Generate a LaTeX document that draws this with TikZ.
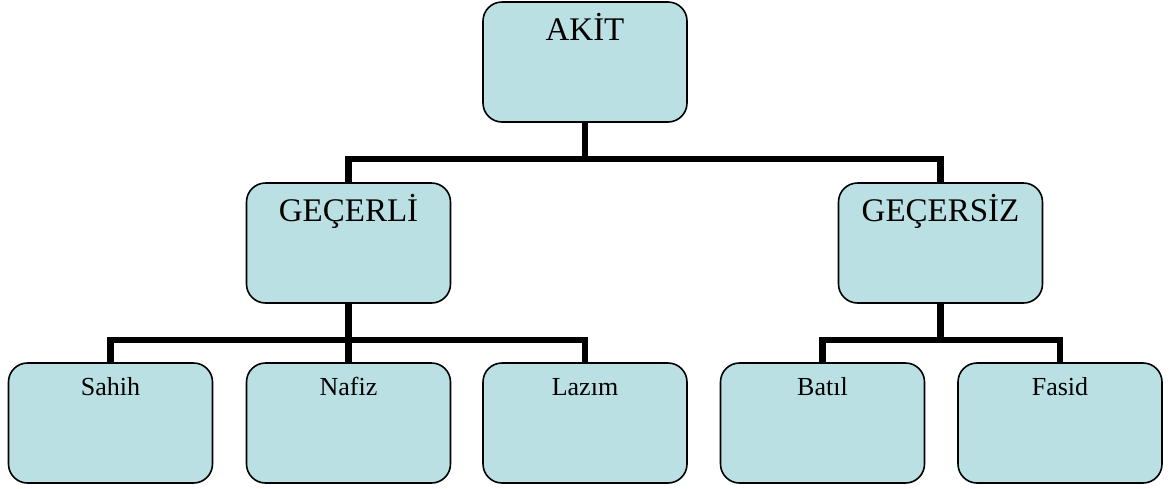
\documentclass[tikz,border=0pt]{standalone}
\usepackage{fontspec}
\setmainfont{Liberation Serif}
\usepackage{xcolor}
\usetikzlibrary{positioning,calc}
\definecolor{boxfill}{RGB}{186,224,227}

\begin{document}
\begin{tikzpicture}[x=1pt,y=-1pt,
    box/.style={draw,line width=1.6pt,rounded corners=19pt,fill=boxfill,
      inner sep=0pt,minimum width=204pt,anchor=center},
    bigbox/.style={box,font=\fontsize{33}{36}\selectfont,text height=38pt,text depth=82pt},
    leafbox/.style={box,font=\fontsize{26}{30}\selectfont,text height=32pt,text depth=88pt},
    conn/.style={line width=6.5pt,line join=miter}]
  \useasboundingbox (0,0) rectangle (1172,488);

  % top level
  \node[bigbox] (akit) at (585,62) {AKİT};

  % second level
  \node[bigbox] (gecerli) at (348.5,243) {GEÇERLİ};
  \node[bigbox] (gecersiz) at (940.5,243) {GEÇERSİZ};

  % leaves
  \node[leafbox] (sahih) at (110.5,423) {Sahih};
  \node[leafbox] (nafiz) at (348.5,423) {Nafiz};
  \node[leafbox] (lazim) at (585,423) {Lazım};
  \node[leafbox] (batil) at (822.5,423) {Batıl};
  \node[leafbox] (fasid) at (1060,423) {Fasid};

  % connectors
  \draw[conn] (akit.south) -- ++(0,36) coordinate (j1);
  \draw[conn] (gecerli.north) |- (j1) -| (gecersiz.north);

  \draw[conn] (gecerli.south) -- ++(0,36) coordinate (j2);
  \draw[conn] (sahih.north) |- (j2) -| (lazim.north);
  \draw[conn] (j2) -- (nafiz.north);

  \draw[conn] (gecersiz.south) -- ++(0,36) coordinate (j3);
  \draw[conn] (batil.north) |- (j3) -| (fasid.north);
\end{tikzpicture}
\end{document}
